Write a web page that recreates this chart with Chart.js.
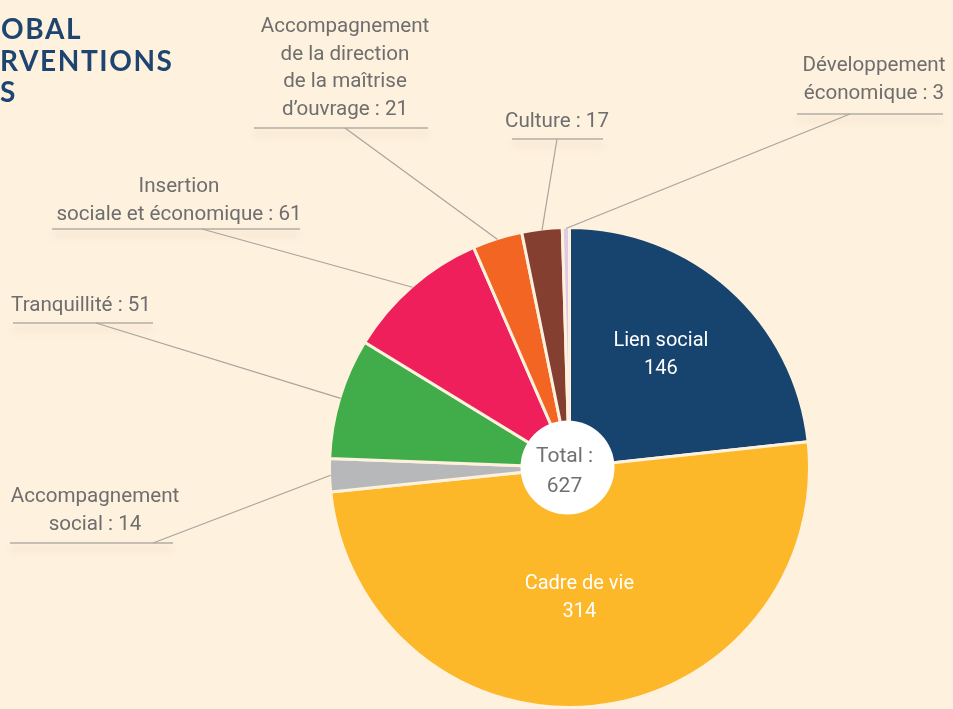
<!DOCTYPE html>
<html>
<head>
<meta charset="utf-8">
<script src="https://cdn.jsdelivr.net/npm/chart.js@4/dist/chart.umd.min.js"></script>
<style>
  html, body { margin: 0; padding: 0; background: #FEF1DE; overflow: hidden; }
  #wrap { position: relative; width: 953px; height: 709px; }
  canvas { position: absolute; left: 0; top: 0; }
  .t { position: absolute; left: 0; font-family: Lato, sans-serif; font-weight: 700; font-size: 28px; letter-spacing: 1.6px; color: #1D4570; line-height: 30px; white-space: nowrap; }
</style>
</head>
<body>
<div id="wrap">
  <canvas id="c" width="953" height="709"></canvas>
  <div class="t" style="top:13px;left:1px">OBAL</div>
  <div class="t" style="top:45px;left:0px">RVENTIONS</div>
  <div class="t" style="top:76px;left:0px">S</div>
</div>
<script>
// ---- data ----
const categories = ['Lien social', 'Cadre de vie', 'Accompagnement social', 'Tranquillité',
  'Insertion sociale et économique', 'Accompagnement de la direction de la maîtrise d\u2019ouvrage',
  'Culture', 'Développement économique'];
const values = [146, 314, 14, 51, 61, 21, 17, 3];
const colors = ['#17446F', '#FCB829', '#B7B8BA', '#41AD4A', '#EE1F5B', '#F26522', '#853F31', '#E1C8E3'];
// label text lines (the value is appended to the last line)
const labelLines = [
  ['Lien social'], ['Cadre de vie'], ['Accompagnement', 'social'], ['Tranquillité'],
  ['Insertion', 'sociale et économique'], ['Accompagnement', 'de la direction', 'de la maîtrise', 'd\u2019ouvrage'],
  ['Culture'], ['Développement', 'économique']
];
const totalLabel = 'Total :';

// ---- layout of labels (positions only) ----
const outside = {
  2: { cx: 95, y0: 502, lh: 27.5, uy: 543, ux1: 10, ux2: 173, ax: 153 },
  3: { cx: 81, y0: 311, lh: 27.5, uy: 323, ux1: 13, ux2: 153, ax: 96 },
  4: { cx: 179, y0: 192, lh: 28, uy: 229, ux1: 52, ux2: 300, ax: 202 },
  5: { cx: 345, y0: 32, lh: 27.7, uy: 128, ux1: 254, ux2: 428, ax: 345 },
  6: { cx: 557, y0: 127, lh: 28, uy: 139, ux1: 512, ux2: 603, ax: 557 },
  7: { cx: 874, y0: 71, lh: 28, uy: 114, ux1: 797, ux2: 943, ax: 850 }
};
const inside = { 0: { r: 0.62, dx: -8, dy: -5 }, 1: { r: 0.51, dx: -3, dy: 6 } };

const labelPlugin = {
  id: 'labels',
  afterDatasetsDraw(chart) {
    const ctx = chart.ctx;
    const meta = chart.getDatasetMeta(0);
    const arcs = meta.data;
    const cx = arcs[0].x, cy = arcs[0].y;
    const R = arcs[0].outerRadius;
    ctx.save();
    // white centre disc
    ctx.beginPath();
    ctx.arc(cx - 2, cy, 47, 0, Math.PI * 2);
    ctx.fillStyle = '#FFFFFF';
    ctx.fill();
    ctx.textAlign = 'center';
    ctx.textBaseline = 'alphabetic';
    ctx.fillStyle = '#707070';
    ctx.font = '21px Roboto';
    const total = values.reduce((a, b) => a + b, 0);
    ctx.fillText(totalLabel, cx - 5, cy - 6);
    ctx.fillText(String(total), cx - 5, cy + 24);

    // inside labels
    ctx.font = '20px Roboto';
    ctx.fillStyle = '#FFFFFF';
    Object.keys(inside).forEach(k => {
      const i = +k, a = arcs[i], L = inside[k];
      const mid = (a.startAngle + a.endAngle) / 2;
      const px = cx + Math.cos(mid) * R * L.r + L.dx;
      const py = cy + Math.sin(mid) * R * L.r + L.dy;
      ctx.fillText(labelLines[i][0], px, py - 6);
      ctx.fillText(String(values[i]), px, py + 22);
    });

    // outside labels
    Object.keys(outside).forEach(k => {
      const i = +k, a = arcs[i], L = outside[k];
      const mid = (a.startAngle + a.endAngle) / 2;
      const ex = cx + Math.cos(mid) * (R - 1);
      const ey = cy + Math.sin(mid) * (R - 1);
      // underline with soft shadow
      ctx.save();
      ctx.shadowColor = 'rgba(120,90,40,0.22)';
      ctx.shadowBlur = 8;
      ctx.shadowOffsetY = 6;
      ctx.strokeStyle = '#B3ADA3';
      ctx.lineWidth = 1.3;
      ctx.beginPath();
      ctx.moveTo(L.ux1, L.uy);
      ctx.lineTo(L.ux2, L.uy);
      ctx.stroke();
      ctx.restore();
      // leader line
      ctx.strokeStyle = '#A9A49B';
      ctx.lineWidth = 1.2;
      ctx.beginPath();
      ctx.moveTo(L.ax, L.uy);
      ctx.lineTo(ex, ey);
      ctx.stroke();
      // text
      ctx.fillStyle = '#6E6E6E';
      ctx.font = '20.6px Roboto';
      const lines = labelLines[i].slice();
      lines[lines.length - 1] = lines[lines.length - 1] + ' : ' + values[i];
      lines.forEach((t, j) => ctx.fillText(t, L.cx, L.y0 + j * L.lh));
    });
    ctx.restore();
  }
};

new Chart(document.getElementById('c'), {
  type: 'doughnut',
  data: {
    labels: categories,
    datasets: [{
      data: values,
      backgroundColor: colors,
      borderColor: '#FEF1DE',
      borderWidth: 3,
      hoverOffset: 0
    }]
  },
  options: {
    responsive: false,
    animation: false,
    cutout: 0,
    rotation: 0,
    layout: { padding: { left: 325, right: 139, top: 226, bottom: 0 } },
    plugins: { legend: { display: false }, tooltip: { enabled: false } }
  },
  plugins: [labelPlugin]
});
</script>
</body>
</html>
